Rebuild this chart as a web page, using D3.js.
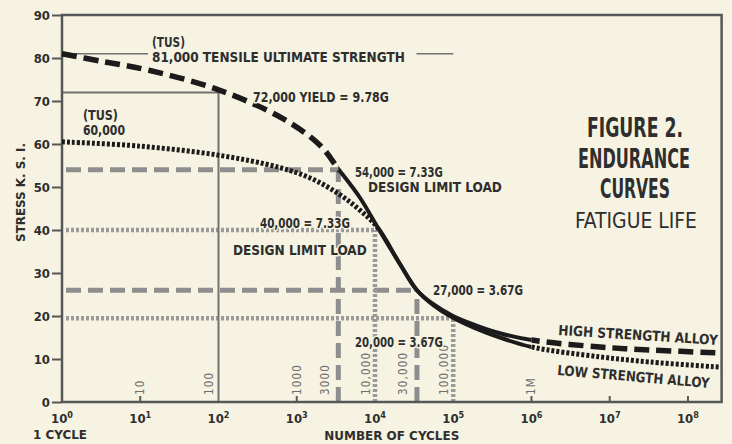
<!DOCTYPE html>
<html><head><meta charset="utf-8">
<script src="https://cdn.jsdelivr.net/npm/d3@7/dist/d3.min.js"></script>
<style>
html,body{margin:0;padding:0;background:#f6f3e2;}
svg{display:block;}
text{font-family:'Liberation Sans Narrow','DejaVu Sans Condensed','DejaVu Sans','Liberation Sans',sans-serif;}
</style></head><body>
<svg id="c" width="732" height="444"></svg>
<script>
// ---------- data ----------
const yTicks = [0, 10, 20, 30, 40, 50, 60, 70, 80, 90];
const xDecades = [0, 1, 2, 3, 4, 5, 6, 7, 8];
const innerTickDecades = [1, 3, 6, 7, 8];

// high strength alloy (dashed, then solid, then dashed)
const highDashN = [1, 3.06, 13.3, 100, 667, 1982, 3400];
const highDashS = [81, 79.3, 77.1, 72.6, 65.9, 59.7, 54.2];
const highSolidN = [3400, 6430, 10900, 20840, 34400, 55080, 99300, 189700, 395000, 1e6];
const highSolidS = [54.2, 47.5, 40.5, 32.1, 26.0, 22.8, 20.0, 17.9, 16.0, 14.4];
const highTailN = [1e6, 7.5e6, 3.27e7, 2.63e8];
const highTailS = [14.4, 12.8, 12.1, 11.4];

// low strength alloy (dotted, then solid, then dotted)
const lowDotN = [1, 10, 100, 611, 1614, 3570, 6430, 10900];
const lowDotS = [60.5, 59.5, 57.4, 54.5, 51.8, 48.2, 44.6, 40.5];
const lowSolidN = [10900, 20840, 34400, 55080, 99300, 189700, 395000, 1e6];
const lowSolidS = [40.5, 32.1, 26.0, 22.6, 19.6, 17.2, 15.0, 12.8];
const lowTailN = [1e6, 7.5e6, 3.27e7, 2.63e8];
const lowTailS = [12.8, 10.5, 9.3, 8.1];

// reference levels
const dashedLevels = [54, 26];
const dashedCycles = [3400, 34400];
const dottedLevels = [40, 19.5];
const dottedCycles = [10000, 100000];
const yieldLevel = 72, yieldCycles = 100;
const tusLevel = 81;
const tusLeaderA = [1, Math.pow(10, 1.1)];
const tusLeaderB = [Math.pow(10, 4.53), 1e5];

// cycle marker labels
const cycleMarks = ["10", "100", "1000", "3000", "10,000", "30,000", "100,000", "1M"];
const cycleMarkAt = [10, 100, 1000, 3000, 10000, 30000, 100000, 1e6];

// annotations (position in log10 cycles, ksi)
const annText = ["(TUS)", "81,000 TENSILE ULTIMATE STRENGTH", "72,000 YIELD = 9.78G", "(TUS)", "60,000",
  "54,000 = 7.33G", "DESIGN LIMIT LOAD", "40,000 = 7.33G", "DESIGN LIMIT LOAD", "27,000 = 3.67G", "20,000 = 3.67G"];
const annLx = [1.150, 1.150, 2.441, 0.268, 0.268, 3.744, 3.911, 2.530, 2.185, 4.741, 3.744];
const annS  = [82.6, 79.1, 69.8, 65.6, 62.1, 52.3, 48.8, 40.5, 34.2, 24.9, 12.8];
const annW  = [33, 253, 136, 35, 42, 88, 134, 90, 134, 90, 88];

const titleText = ["FIGURE 2.", "ENDURANCE", "CURVES", "FATIGUE LIFE"];
const titleLx = [7.323, 7.310, 7.323, 7.335];
const titleS = [61.6, 54.4, 47.4, 40.5];
const titleW = [96, 112, 70, 122];

const alloyText = ["HIGH STRENGTH ALLOY", "LOW STRENGTH ALLOY"];
const alloyLx = [6.339, 6.326];
const alloyS = [15.6, 6.3];
const alloyW = [160, 153];
const alloyRot = [3.6, 4.9];

// ---------- drawing ----------
const BG = '#f6f3e2', INK = '#2e2e2e', AX = '#575757';
const svg = d3.select('#c');
svg.append('rect').attr('width', 732).attr('height', 444).attr('fill', BG);

const x = d3.scaleLog().domain([1, Math.pow(10, 8.43)]).range([62, 721.6]);
const y = d3.scaleLinear().domain([0, 90]).range([402, 15]);
const zip = (a, b) => a.map((v, i) => [v, b[i]]);
const join = (...segs) => segs.reduce((acc, s, i) => acc.concat(i === 0 ? s : s.slice(1)), []);
const line = d3.line().x(d => x(d[0])).y(d => y(d[1])).curve(d3.curveCatmullRom.alpha(0.5));

function label(g, txt, px, py, w, o) {
  const t = g.append('text').attr('font-size', o.size).attr('font-weight', o.weight || 'bold')
    .attr('fill', o.fill || INK).attr('text-anchor', o.anchor || 'start').text(txt);
  if (o.halo) t.attr('stroke', BG).attr('stroke-width', 3).attr('paint-order', 'stroke').attr('stroke-linejoin', 'round');
  const n = t.node().getComputedTextLength();
  const k = w ? w / n : 1;
  t.attr('transform', `translate(${px},${py}) rotate(${o.rot || 0}) scale(${k},1)`);
  return t;
}

// clip regions
const defs = svg.append('defs');
function clip(id, n0, n1) {
  defs.append('clipPath').attr('id', id).append('rect')
    .attr('x', x(n0)).attr('width', x(n1) - x(n0)).attr('y', 0).attr('height', 444);
}
const xEnd = x.domain()[1];
clip('hA', 0.5, 3400); clip('hB', 3400, 1e6); clip('hC', 1e6, xEnd * 2);
clip('lA', 0.5, 10900); clip('lB', 10900, 1e6); clip('lC', 1e6, xEnd * 2);

// reference lines (gray)
const ref = svg.append('g').attr('fill', 'none');
dashedLevels.forEach((lv, i) => {
  ref.append('path').attr('d', d3.line()([[x(1) + 4, y(lv)], [x(dashedCycles[i]), y(lv)]]))
    .attr('stroke', '#8e8e8e').attr('stroke-width', 5).attr('stroke-dasharray', '15,7');
  ref.append('path').attr('d', d3.line()([[x(dashedCycles[i]), y(0)], [x(dashedCycles[i]), y(lv)]]))
    .attr('stroke', '#8e8e8e').attr('stroke-width', 5).attr('stroke-dasharray', '15,7');
});
dottedLevels.forEach((lv, i) => {
  ref.append('path').attr('d', d3.line()([[x(1) + 4, y(lv)], [x(dottedCycles[i]), y(lv)]]))
    .attr('stroke', '#9a9a9a').attr('stroke-width', 4.5).attr('stroke-dasharray', '3,2');
  ref.append('path').attr('d', d3.line()([[x(dottedCycles[i]), y(0)], [x(dottedCycles[i]), y(lv)]]))
    .attr('stroke', '#9a9a9a').attr('stroke-width', 4.5).attr('stroke-dasharray', '3,2');
});
ref.append('path').attr('d', d3.line()([[x(1), y(yieldLevel)], [x(yieldCycles), y(yieldLevel)], [x(yieldCycles), y(0)]]))
  .attr('stroke', '#727272').attr('stroke-width', 2);
[tusLeaderA, tusLeaderB].forEach(seg => {
  ref.append('path').attr('d', d3.line()([[x(seg[0]), y(tusLevel)], [x(seg[1]), y(tusLevel)]]))
    .attr('stroke', '#727272').attr('stroke-width', 1.6);
});

// frame / axes
svg.append('path').attr('fill', 'none').attr('stroke', AX).attr('stroke-width', 2.5)
  .attr('d', d3.line()([[x(1), y(0)], [x(1), y(90)], [x.range()[1], y(90)], [x.range()[1], y(0)], [x(1), y(0)]]));

const gy = svg.append('g').attr('transform', `translate(${x(1)},0)`)
  .call(d3.axisLeft(y).tickValues(yTicks).tickSize(10).tickPadding(2));
gy.select('.domain').remove();
gy.selectAll('line').attr('stroke', AX).attr('stroke-width', 2);
gy.selectAll('text').attr('font-size', 13).attr('font-weight', 'bold').attr('fill', INK).attr('font-family', null);

innerTickDecades.forEach(d => {
  svg.append('line').attr('x1', x(Math.pow(10, d))).attr('x2', x(Math.pow(10, d)))
    .attr('y1', y(0)).attr('y2', y(0) - 6).attr('stroke', AX).attr('stroke-width', 2);
});

xDecades.forEach(d => {
  const t = svg.append('text').attr('x', x(Math.pow(10, d))).attr('y', y(0) + 21)
    .attr('text-anchor', 'middle').attr('fill', INK).attr('font-weight', 'bold');
  t.append('tspan').attr('font-size', 13).text('10');
  t.append('tspan').attr('font-size', 9).attr('dy', -5).text(String(d));
});

// axis titles
label(svg, '1 CYCLE', x(1) - 2, y(0) + 37, 54, { size: 13, anchor: 'middle' });
label(svg, 'NUMBER OF CYCLES', (x(1) + x.range()[1]) / 2, y(0) + 38, 135, { size: 13, anchor: 'middle' });
label(svg, 'STRESS K. S. I.', x(1) - 37, (y(0) + y(90)) / 2 - 16, 99, { size: 12, anchor: 'middle', rot: -90 });

// cycle marker labels (vertical)
const beside = v => [100, 3000, 10000, 30000, 100000].includes(v);
cycleMarks.forEach((t, i) => {
  const cx = x(cycleMarkAt[i]) + (beside(cycleMarkAt[i]) ? -9 : 0) + 4;
  svg.append('text').attr('transform', `translate(${cx},${y(0) - 7}) rotate(-90)`)
    .attr('font-size', 11.5).attr('fill', '#6e6e6e').attr('letter-spacing', 1.2).text(t);
});

// curves
const highAll = join(zip(highDashN, highDashS), zip(highSolidN, highSolidS), zip(highTailN, highTailS));
const lowAll = join(zip(lowDotN, lowDotS), zip(lowSolidN, lowSolidS), zip(lowTailN, lowTailS));
const curves = svg.append('g').attr('fill', 'none').attr('stroke', '#1b1b1b');
curves.append('path').attr('d', line(lowAll)).attr('clip-path', 'url(#lA)').attr('stroke-width', 5).attr('stroke-dasharray', '3,2');
curves.append('path').attr('d', line(highAll)).attr('clip-path', 'url(#hA)').attr('stroke-width', 5.5).attr('stroke-dasharray', '15,7');
curves.append('path').attr('d', line(lowAll)).attr('clip-path', 'url(#lB)').attr('stroke-width', 4);
curves.append('path').attr('d', line(highAll)).attr('clip-path', 'url(#hB)').attr('stroke-width', 4);
curves.append('path').attr('d', line(highAll)).attr('clip-path', 'url(#hC)').attr('stroke-width', 5.5).attr('stroke-dasharray', '15,7');
curves.append('path').attr('d', line(lowAll)).attr('clip-path', 'url(#lC)').attr('stroke-width', 5).attr('stroke-dasharray', '3,2');

// annotations
annText.forEach((t, i) => {
  label(svg, t, x(Math.pow(10, annLx[i])), y(annS[i]), annW[i], { size: 14, halo: true });
});
alloyText.forEach((t, i) => {
  label(svg, t, x(Math.pow(10, alloyLx[i])), y(alloyS[i]), alloyW[i], { size: 14, rot: alloyRot[i] });
});
titleText.forEach((t, i) => {
  label(svg, t, x(Math.pow(10, titleLx[i])), y(titleS[i]), titleW[i],
    { size: i === 3 ? 21 : 26, weight: i === 3 ? 'normal' : 'bold', anchor: 'middle' });
});
</script>
</body></html>
